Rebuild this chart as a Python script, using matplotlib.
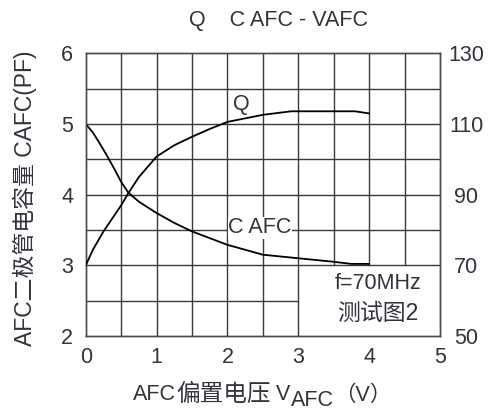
import numpy as np
import matplotlib
matplotlib.use("Agg")
import matplotlib.pyplot as plt
from matplotlib import font_manager

# bias voltage (V) and measured values
v_q = [0, 0.1, 0.25, 0.5, 0.6, 0.75, 1.0, 1.25, 1.5, 1.75, 2.0, 2.5, 2.9, 3.5, 3.8, 4.0]
q_vals = [70, 74.4, 79.6, 87, 90.4, 95, 100.8, 104, 106.4, 108.6, 110.6, 112.6, 113.6, 113.6, 113.6, 113]

v_c = [0, 0.1, 0.2, 0.3, 0.4, 0.5, 0.6, 0.75, 1.0, 1.25, 1.5, 2.0, 2.5, 3.0, 3.5, 3.75, 4.0]
c_vals = [5.0, 4.88, 4.72, 4.55, 4.37, 4.18, 4.03, 3.9, 3.74, 3.6, 3.48, 3.29, 3.15, 3.1, 3.05, 3.02, 3.02]

x_ticks = [0, 1, 2, 3, 4, 5]
c_ticks = [2, 3, 4, 5, 6]
q_ticks = [50, 70, 90, 110, 130]

names = {f.name for f in font_manager.fontManager.ttflist}
latin = "Liberation Sans Narrow" if "Liberation Sans Narrow" in names else "Liberation Sans"
plt.rcParams["font.family"] = [latin, "Noto Sans CJK SC", "DejaVu Sans"]

txt = "#33333d"
fs = 15.5
fs_cjk = 17

fig = plt.figure(figsize=(4.93, 4.12), dpi=100)
ax = fig.add_axes([0.174, 0.1845, 0.7185, 0.686])
ax2 = ax.twinx()

ax.set_xlim(0, 5)
ax.set_ylim(2, 6)
ax2.set_ylim(50, 130)

# grid: the lower right block is left open for the notes
gc = "#3a3a3a"
for gx in np.arange(0.5, 5, 0.5):
    ax.plot([gx, gx], [2 if gx <= 3 else 3, 6], color=gc, lw=1.0, zorder=1)
for gy in np.arange(2.5, 6, 0.5):
    ax.plot([0, 3 if gy < 3 else 5], [gy, gy], color=gc, lw=1.0, zorder=1)

ax.plot(v_c, c_vals, color="black", lw=1.3, zorder=3)
ax2.plot(v_q, q_vals, color="black", lw=1.3, zorder=3)

ax.text(2.2, 5.27, "Q", fontsize=fs, color=txt, ha="center", va="center", zorder=4)
ax.text(2.46, 3.53, "C AFC", fontsize=fs, color=txt, ha="center", va="center", zorder=4,
        bbox=dict(facecolor="white", edgecolor="none", pad=0.5))
ax.text(4.12, 2.74, "f=70MHz", fontsize=fs, color=txt, ha="center", va="center")
ax.text(4.12, 2.32, "测试图2", fontsize=16.5, color=txt, ha="center", va="center")

ax.set_xticks(x_ticks)
ax.set_yticks(c_ticks)
ax2.set_yticks(q_ticks)
ax.tick_params(length=0, labelsize=fs, labelcolor=txt)
ax.tick_params(axis="x", pad=8)
ax.tick_params(axis="y", pad=9)
ax2.tick_params(length=0, labelsize=fs, labelcolor=txt, pad=19)
for lab in ax2.get_yticklabels():
    lab.set_horizontalalignment("center")

for a in (ax, ax2):
    for s in a.spines.values():
        s.set_color("#4a4a4a")
        s.set_linewidth(1.0)

fig.text(0.564, 0.951, "Q    C AFC - VAFC", fontsize=fs, color=txt, ha="center", va="center")
fig.text(0.051, 0.519, "AFC二极管电容量 CAFC(PF)", fontsize=16.5, color=txt,
         rotation=90, ha="center", va="center")

# x label pieced together, AFC after the V sits lower
r = fig.canvas.get_renderer()
W, H = fig.bbox.width, fig.bbox.height
yl = 1 - 395 / H
pieces = [("AFC", fs, 0), ("偏置电压", fs_cjk, 0), (" V", fs, 0), ("AFC", fs, -5), ("（V）", fs, 0)]
xpos = 133 / W
for s, size, dy in pieces:
    t = fig.text(xpos, yl + dy / H, s, fontsize=size, color=txt, va="center")
    xpos = t.get_window_extent(r).x1 / W

fig.savefig("out.png", dpi=100)
